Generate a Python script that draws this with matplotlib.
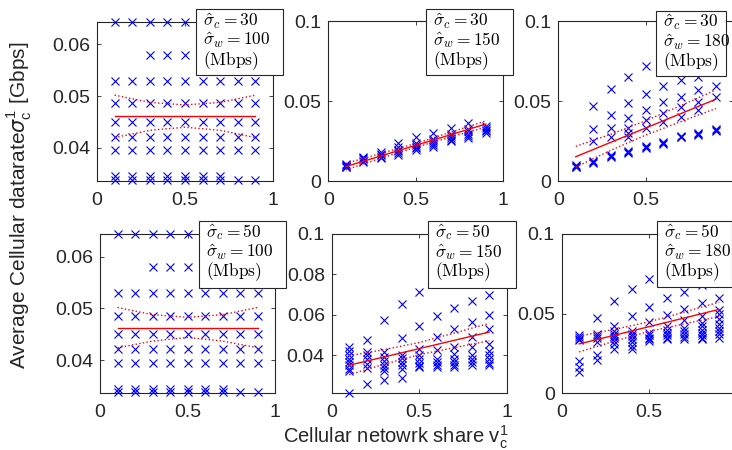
import matplotlib
matplotlib.use("Agg")
import matplotlib.pyplot as plt
from matplotlib.ticker import FuncFormatter, FixedLocator
from matplotlib.patches import Rectangle

plt.rcParams['font.family'] = ['Liberation Sans', 'DejaVu Sans']

W, H = 732, 450

x_share = [0.1, 0.2, 0.3, 0.4, 0.5, 0.6, 0.7, 0.8, 0.9]
x_bound = [0.1, 0.3, 0.5, 0.7, 0.9]
x_fit = [0.1, 0.9]
x_ticks = [0, 0.5, 1]

# ---- panel data: y values per x position ----
tl_y = [
    [0.0644, 0.0529, 0.0486, 0.0451, 0.0421, 0.0395, 0.0345, 0.0338],
    [0.0644, 0.0529, 0.0486, 0.0451, 0.0421, 0.0395, 0.0345, 0.0338],
    [0.0644, 0.0580, 0.0529, 0.0486, 0.0451, 0.0421, 0.0395, 0.0345, 0.0338],
    [0.0644, 0.0580, 0.0529, 0.0486, 0.0451, 0.0421, 0.0395, 0.0345, 0.0338],
    [0.0644, 0.0580, 0.0529, 0.0486, 0.0451, 0.0421, 0.0395, 0.0345, 0.0338],
    [0.0644, 0.0580, 0.0529, 0.0486, 0.0451, 0.0421, 0.0395, 0.0345, 0.0338],
    [0.0644, 0.0580, 0.0529, 0.0486, 0.0451, 0.0421, 0.0395, 0.0345, 0.0338],
    [0.0644, 0.0580, 0.0529, 0.0486, 0.0451, 0.0421, 0.0395, 0.0338],
    [0.0644, 0.0580, 0.0529, 0.0486, 0.0451, 0.0421, 0.0395, 0.0338],
]
tl_fit = [0.0461, 0.0461]
tl_up = [0.0502, 0.0488, 0.0483, 0.0488, 0.0502]
tl_lo = [0.0420, 0.0434, 0.0440, 0.0434, 0.0420]

tm_y = [
    [0.0085, 0.0090, 0.0095, 0.0100, 0.0105],
    [0.0120, 0.0128, 0.0135, 0.0142, 0.0150],
    [0.0145, 0.0152, 0.0160, 0.0168, 0.0183],
    [0.0165, 0.0175, 0.0185, 0.0195, 0.0210, 0.0236],
    [0.0195, 0.0205, 0.0215, 0.0225, 0.0240, 0.0273],
    [0.0215, 0.0228, 0.0240, 0.0252, 0.0265, 0.0298],
    [0.0248, 0.0258, 0.0270, 0.0282, 0.0295, 0.0330],
    [0.0270, 0.0282, 0.0295, 0.0310, 0.0325, 0.0360],
    [0.0300, 0.0310, 0.0320, 0.0330, 0.0345],
]
tm_fit = [0.0090, 0.0356]
tm_up = [0.0110, 0.0172, 0.0235, 0.0305, 0.0376]
tm_lo = [0.0070, 0.0142, 0.0211, 0.0275, 0.0336]

tr_y = [
    [0.0085, 0.0090, 0.0095, 0.0100],
    [0.0470, 0.0325, 0.0252, 0.0115, 0.0120, 0.0125],
    [0.0575, 0.0410, 0.0329, 0.0277, 0.0152, 0.0158, 0.0164],
    [0.0652, 0.0485, 0.0392, 0.0329, 0.0302, 0.0277, 0.0178, 0.0183, 0.0188],
    [0.0717, 0.0542, 0.0444, 0.0381, 0.0329, 0.0208, 0.0214, 0.0220],
    [0.0594, 0.0492, 0.0423, 0.0371, 0.0234, 0.0239, 0.0244],
    [0.0631, 0.0527, 0.0460, 0.0402, 0.0272, 0.0277, 0.0282],
    [0.0652, 0.0569, 0.0496, 0.0444, 0.0287, 0.0292, 0.0297],
    [0.0594, 0.0523, 0.0312, 0.0319, 0.0326],
]
tr_fit = [0.0152, 0.0511]
tr_up = [0.0217, 0.0292, 0.0377, 0.0471, 0.0569]
tr_lo = [0.0087, 0.0192, 0.0287, 0.0371, 0.0453]

bl_y = tl_y
bl_fit = [0.0462, 0.0462]
bl_up = [0.0502, 0.0488, 0.0483, 0.0488, 0.0502]
bl_lo = [0.0424, 0.0437, 0.0444, 0.0437, 0.0424]

bm_y = [
    [0.0440, 0.0420, 0.0400, 0.0380, 0.0365, 0.0350, 0.0330, 0.0320, 0.0212],
    [0.0477, 0.0415, 0.0400, 0.0380, 0.0355, 0.0335, 0.0257],
    [0.0577, 0.0415, 0.0390, 0.0370, 0.0350, 0.0335, 0.0320, 0.0277],
    [0.0654, 0.0487, 0.0400, 0.0385, 0.0365, 0.0350, 0.0330, 0.0290],
    [0.0711, 0.0544, 0.0433, 0.0402, 0.0380, 0.0360, 0.0345, 0.0340],
    [0.0593, 0.0490, 0.0425, 0.0380, 0.0365, 0.0350, 0.0340],
    [0.0632, 0.0531, 0.0441, 0.0405, 0.0380, 0.0365, 0.0350, 0.0340],
    [0.0667, 0.0567, 0.0490, 0.0441, 0.0400, 0.0380, 0.0365, 0.0350],
    [0.0700, 0.0597, 0.0531, 0.0457, 0.0420, 0.0400, 0.0380, 0.0360, 0.0350],
]
bm_fit = [0.0351, 0.0515]
bm_up = [0.0398, 0.0428, 0.0463, 0.0510, 0.0558]
bm_lo = [0.0304, 0.0356, 0.0403, 0.0438, 0.0472]

br_y = [
    [0.0365, 0.0355, 0.0340, 0.0335, 0.0205, 0.0165, 0.0135],
    [0.0470, 0.0375, 0.0360, 0.0345, 0.0320, 0.0240, 0.0209],
    [0.0580, 0.0420, 0.0390, 0.0375, 0.0360, 0.0345, 0.0330, 0.0310, 0.0275],
    [0.0655, 0.0485, 0.0390, 0.0375, 0.0360, 0.0340, 0.0320, 0.0295, 0.0275],
    [0.0716, 0.0544, 0.0449, 0.0380, 0.0365, 0.0350, 0.0340, 0.0330],
    [0.0598, 0.0491, 0.0425, 0.0400, 0.0380, 0.0365, 0.0350, 0.0340],
    [0.0638, 0.0527, 0.0460, 0.0408, 0.0390, 0.0370, 0.0355, 0.0340],
    [0.0680, 0.0565, 0.0485, 0.0440, 0.0420, 0.0400, 0.0380, 0.0365, 0.0350, 0.0340],
    [0.0596, 0.0520, 0.0495, 0.0465, 0.0435, 0.0410, 0.0390, 0.0370, 0.0350],
]
br_fit = [0.0310, 0.0527]
br_up = [0.0360, 0.0401, 0.0449, 0.0510, 0.0572]
br_lo = [0.0260, 0.0327, 0.0389, 0.0436, 0.0482]

sigma_c = ['30', '30', '30', '50', '50', '50']
sigma_w = ['100', '150', '180', '100', '150', '180']

panels = [
    (tl_y, tl_fit, tl_up, tl_lo, (0.0336, 0.0644), [0.04, 0.05, 0.06]),
    (tm_y, tm_fit, tm_up, tm_lo, (0.0, 0.1), [0.0, 0.05, 0.1]),
    (tr_y, tr_fit, tr_up, tr_lo, (0.0, 0.1), [0.0, 0.05, 0.1]),
    (bl_y, bl_fit, bl_up, bl_lo, (0.0336, 0.0644), [0.04, 0.05, 0.06]),
    (bm_y, bm_fit, bm_up, bm_lo, (0.0212, 0.1), [0.04, 0.06, 0.08, 0.1]),
    (br_y, br_fit, br_up, br_lo, (0.0, 0.1), [0.0, 0.05, 0.1]),
]

# axes pixel boxes (left, top, right, bottom)
ax_px = [
    (97, 21.7, 273, 181),
    (328.3, 21, 503.3, 181),
    (558.3, 21, 733.3, 181),
    (100, 234, 275.3, 393.3),
    (331.7, 234, 506.7, 393.3),
    (561.7, 234, 736.7, 393.3),
]
# legend boxes (left, top, right, bottom)
box_px = [
    (195.7, 9.3, 282.7, 75),
    (426, 9.3, 512.7, 75),
    (656, 10.7, 726, 76),
    (199, 221, 286, 287.7),
    (428.3, 221, 516, 287.7),
    (656.7, 221, 731.5, 286.7),
]

fig = plt.figure(figsize=(W / 100, H / 100), dpi=100)
tc = '#262626'
fmt = FuncFormatter(lambda v, p: ('%g' % v))
fmt_right = FuncFormatter(lambda v, p: ('%g' % v) if v < 1 else '')

for i, (ys, fit, up, lo, ylim, yt) in enumerate(panels):
    l, t, r, b = ax_px[i]
    ax = fig.add_axes([l / W, 1 - b / H, (r - l) / W, (b - t) / H])
    for xv, col in zip(x_share, ys):
        ax.plot([xv] * len(col), col, 'x', color='#0000ff', ms=5.5, mew=0.8,
                clip_on=False, zorder=3)
    ax.plot(x_fit, fit, '-', color='#ff0000', lw=1, zorder=4)
    ax.plot(x_bound, up, ':', color='#ff0000', lw=1, zorder=4)
    ax.plot(x_bound, lo, ':', color='#ff0000', lw=1, zorder=4)
    ax.set_xlim(0, 1)
    ax.set_ylim(*ylim)
    ax.xaxis.set_major_locator(FixedLocator(x_ticks))
    ax.yaxis.set_major_locator(FixedLocator(yt))
    ax.xaxis.set_major_formatter(fmt_right if i in (2, 5) else fmt)
    ax.yaxis.set_major_formatter(fmt)
    ax.tick_params(direction='in', top=True, right=True, length=3, width=0.6,
                   labelsize=14, labelcolor=tc, color=tc)
    ax.tick_params(axis='x', pad=8)
    ax.tick_params(axis='y', pad=5)
    for s in ax.spines.values():
        s.set_color(tc)
        s.set_linewidth(0.8)

    bl_, bt, br_, bb = box_px[i]
    fig.add_artist(Rectangle((bl_ / W, 1 - bb / H), (br_ - bl_) / W, (bb - bt) / H,
                             transform=fig.transFigure, facecolor='white',
                             edgecolor=tc, lw=0.8, zorder=10))
    lines = [r'$\hat{\sigma}_c = %s$' % sigma_c[i],
             r'$\hat{\sigma}_w = %s$' % sigma_w[i],
             r'$\mathrm{(Mbps)}$']
    for k, s in enumerate(lines):
        fig.text((bl_ + 7) / W, 1 - (bt + 11.5 + 19.7 * k) / H, s,
                 fontsize=12.5, va='center', ha='left', color='black',
                 math_fontfamily='cm', zorder=11)

fig.text(20 / W, 1 - 205 / H,
         r'Average Cellular datarate$\sigma_\mathregular{c}^\mathregular{1}$ [Gbps]',
         rotation=90, ha='center', va='center', fontsize=15, color=tc,
         math_fontfamily='dejavusans')
fig.text(396 / W, 1 - 443 / H,
         r'Cellular netowrk share v$_\mathregular{c}^\mathregular{1}$',
         ha='center', va='baseline', fontsize=14.5, color=tc,
         math_fontfamily='dejavusans')

fig.savefig('out.png', dpi=100)
